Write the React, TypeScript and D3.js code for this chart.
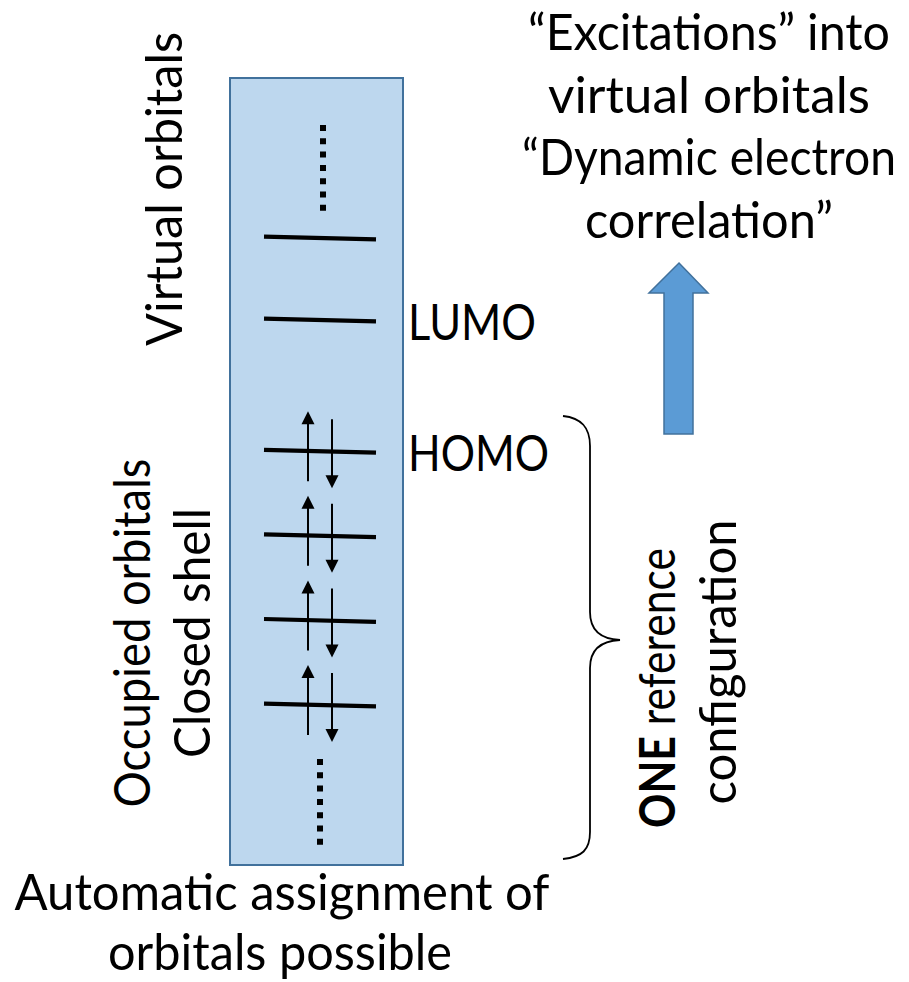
import { scaleLinear, select } from 'd3';
import React, { useEffect, useRef } from 'react';

// orbital energies (arbitrary units)
const occupiedLevels = [-1, -2, -3, -4];
const virtualLevels = [0.55, 1.52];
const levelLabels = ['LUMO', 'HOMO'];

const sideTitles = ['Virtual orbitals', 'Occupied orbitals', 'Closed shell'];
const rightNotes = ['“Excitations” into', 'virtual orbitals', '“Dynamic electron', 'correlation”'];
const bottomNotes = ['Automatic assignment of', 'orbitals possible'];
const braceNotes = ['ONE', ' reference', 'configuration'];

const FONT = 'Lato, "Open Sans", sans-serif';

function App() {
  const svgRef = useRef<SVGSVGElement>(null);

  useEffect(() => {
    const svg = select(svgRef.current);
    svg.selectAll('*').remove();

    const y = scaleLinear().domain([-4, 1.52]).range([705, 238]);
    const x = scaleLinear().domain([0, 1]).range([264, 376]);

    // the box
    svg
      .append('rect')
      .attr('x', 230)
      .attr('y', 78)
      .attr('width', 173)
      .attr('height', 787)
      .attr('fill', '#BDD7EE')
      .attr('stroke', '#41719C')
      .attr('stroke-width', 2);

    const allLevels = [...virtualLevels, ...occupiedLevels];
    svg
      .selectAll('.level')
      .data(allLevels)
      .join('line')
      .attr('class', 'level')
      .attr('x1', x(0))
      .attr('x2', x(1))
      .attr('y1', d => y(d) - 1.4)
      .attr('y2', d => y(d) + 1.4)
      .attr('stroke', '#000')
      .attr('stroke-width', 4.2);

    // electrons, spin up / spin down
    const upX = 308;
    const downX = 332;
    svg
      .selectAll('.up')
      .data(occupiedLevels)
      .join('line')
      .attr('class', 'up')
      .attr('x1', upX)
      .attr('x2', upX)
      .attr('y1', d => y(d) + 30)
      .attr('y2', d => y(d) - 28)
      .attr('stroke', '#000')
      .attr('stroke-width', 2);
    svg
      .selectAll('.uphead')
      .data(occupiedLevels)
      .join('path')
      .attr('class', 'uphead')
      .attr('d', d => `M${upX},${y(d) - 40} L${upX + 6.5},${y(d) - 27} L${upX - 6.5},${y(d) - 27} Z`)
      .attr('fill', '#000');
    svg
      .selectAll('.down')
      .data(occupiedLevels)
      .join('line')
      .attr('class', 'down')
      .attr('x1', downX)
      .attr('x2', downX)
      .attr('y1', d => y(d) - 32)
      .attr('y2', d => y(d) + 25)
      .attr('stroke', '#000')
      .attr('stroke-width', 2);
    svg
      .selectAll('.downhead')
      .data(occupiedLevels)
      .join('path')
      .attr('class', 'downhead')
      .attr('d', d => `M${downX},${y(d) + 37} L${downX + 6.5},${y(d) + 24} L${downX - 6.5},${y(d) + 24} Z`)
      .attr('fill', '#000');

    // "more levels" dots
    const top = y(virtualLevels[virtualLevels.length - 1]);
    const bottom = y(occupiedLevels[occupiedLevels.length - 1]);
    svg
      .selectAll('.dots')
      .data([
        [323, top - 113, top - 27],
        [320, bottom + 54, bottom + 140],
      ])
      .join('line')
      .attr('class', 'dots')
      .attr('x1', d => d[0])
      .attr('x2', d => d[0])
      .attr('y1', d => d[1])
      .attr('y2', d => d[2])
      .attr('stroke', '#000')
      .attr('stroke-width', 6)
      .attr('stroke-dasharray', '6 7.3');

    // text squeezed horizontally to the width it has in the picture
    const label = (str: string | null, px: number, py: number, len: number, anchor = 'middle', rot = 0) => {
      const t = svg
        .append('text')
        .attr('font-family', FONT)
        .attr('font-size', 50)
        .attr('fill', '#000')
        .attr('text-anchor', anchor);
      if (str !== null) t.text(str);
      const fit = () => {
        const w = (t.node() as SVGTextElement).getComputedTextLength() || len;
        t.attr('transform', `translate(${px},${py}) rotate(${rot}) scale(${len / w},1)`);
      };
      return { t, fit };
    };

    const fits: (() => void)[] = [];

    // LUMO / HOMO
    levelLabels.forEach((s, i) => {
      const lv = i === 0 ? virtualLevels[0] : occupiedLevels[0];
      fits.push(label(s, 408, y(lv) + 20, i === 0 ? 128 : 141, 'start').fit);
    });

    // vertical titles on the left
    const sidePos = [
      [182, 189, 314],
      [150, 633, 349],
      [210, 633, 250],
    ];
    sideTitles.forEach((s, i) => fits.push(label(s, sidePos[i][0], sidePos[i][1], sidePos[i][2], 'middle', -90).fit));

    // notes on the right
    const noteLen = [362, 322, 374, 248];
    rightNotes.forEach((s, i) => fits.push(label(s, 709, 50 + i * 62.7, noteLen[i]).fit));

    const bottomLen = [535, 344];
    bottomNotes.forEach((s, i) => fits.push(label(s, i === 0 ? 282 : 280, 910 + i * 60, bottomLen[i]).fit));

    // brace
    svg
      .append('path')
      .attr(
        'd',
        'M563,416 C582,418 590,428 590,446 L590,612 C590,630 600,639 620,640 ' +
          'C600,641 590,650 590,668 L590,832 C590,850 582,857 563,859'
      )
      .attr('fill', 'none')
      .attr('stroke', '#000')
      .attr('stroke-width', 1.8);

    const one = label(null, 675, 688, 280, 'middle', -90);
    one.t.append('tspan').attr('font-weight', 'bold').text(braceNotes[0]);
    one.t.append('tspan').text(braceNotes[1]);
    fits.push(one.fit);
    fits.push(label(braceNotes[2], 736, 662, 285, 'middle', -90).fit);

    fits.forEach(f => f());
    // fonts may settle after first layout
    if ((document as any).fonts && (document as any).fonts.ready) {
      (document as any).fonts.ready.then(() => fits.forEach(f => f()));
    }

    // big arrow
    svg
      .append('path')
      .attr('d', 'M679,263 L708,293 L693,293 L693,434 L664,434 L664,293 L649,293 Z')
      .attr('fill', '#5B9BD5')
      .attr('stroke', '#41719C')
      .attr('stroke-width', 1.5);
  }, []);

  return (
    <svg
      ref={svgRef}
      width={909}
      height={982}
      style={{ position: 'absolute', left: 0, top: 0, background: '#fff' }}
    />
  );
}

export default App;
